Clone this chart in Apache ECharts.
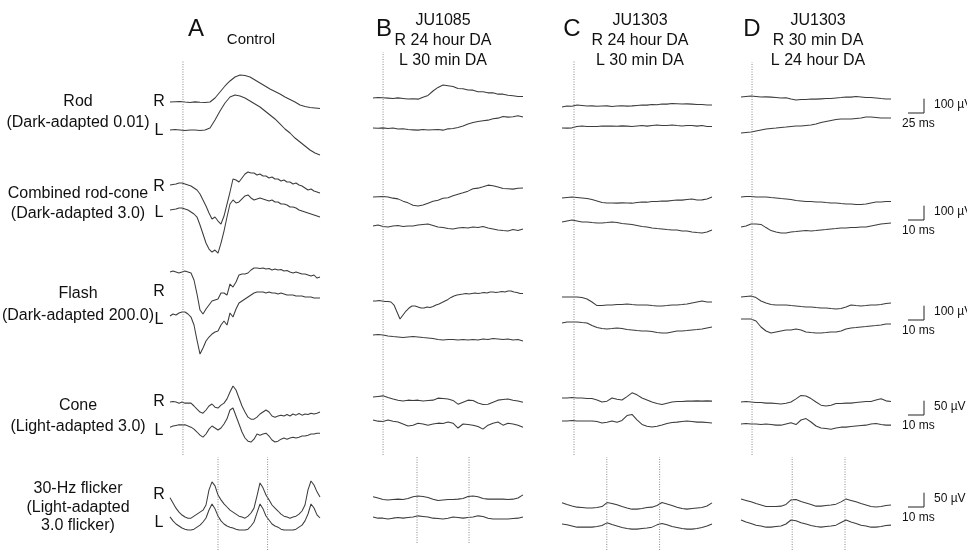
<!DOCTYPE html>
<html><head><meta charset="utf-8">
<script src="https://cdn.jsdelivr.net/npm/echarts@6/dist/echarts.min.js"></script>
<style>html,body{margin:0;padding:0;background:#fff}#c{width:967px;height:550px}</style>
</head><body><div id="c"></div>
<script>
// ---------- text ----------
const panelLetters = ['A', 'B', 'C', 'D'];
const panelTitles = [
  ['Control'],
  ['JU1085', 'R 24 hour DA', 'L 30 min DA'],
  ['JU1303', 'R 24 hour DA', 'L 30 min DA'],
  ['JU1303', 'R 30 min DA', 'L 24 hour DA']
];
const rowTitles = [
  ['Rod', '(Dark-adapted 0.01)'],
  ['Combined rod-cone', '(Dark-adapted 3.0)'],
  ['Flash', '(Dark-adapted 200.0)'],
  ['Cone', '(Light-adapted 3.0)'],
  ['30-Hz flicker', '(Light-adapted', '3.0 flicker)']
];
const eyeLabels = ['R', 'L'];

// ---------- calibration (per protocol row) ----------
const scaleUv = [100, 100, 100, 50, 50];
const scaleMs = [25, 10, 10, 10, 10];
// stimulus timing, ms from start of sweep
const stimOnsetMs = [8.1, 6.3, 7.5, 6.9];
const flickerFlashMs = [[30, 61], [27.5, 60], [28, 61], [32, 65]];

// ---------- traces (µV, uniformly sampled over the sweep) ----------
// Panel A: control
const A_rod_R = [0,2,4,0,-3,1,-2,-4,0,28,70,112,147,175,189,186,175,154,133,112,91,74,56,35,18,0,-21,-32,-39,-42,-46];
const A_rod_L = [0,4,0,-4,0,0,-4,0,14,70,133,189,231,245,238,224,203,182,161,133,105,77,42,7,-21,-56,-84,-112,-140,-161,-175];
const A_comb_R = [7,11,14,21,21,14,7,0,-14,-28,-56,-98,-140,-189,-231,-217,-245,-266,-210,-126,-42,49,42,28,56,84,98,91,91,77,84,70,70,56,63,49,49,35,42,28,28,14,21,7,0,-14,-28,-21,-35,-42,-49];
const A_comb_L = [7,11,14,21,21,14,7,-7,-21,-42,-98,-161,-224,-266,-287,-273,-294,-224,-140,-42,49,77,56,63,84,105,112,91,77,84,91,84,77,70,77,63,63,49,49,42,28,28,21,7,0,-7,-14,-21,-28,-35,-42];
const A_flash_R = [0,7,0,-7,0,7,0,-7,-56,-154,-266,-294,-259,-231,-203,-196,-189,-147,-147,-161,-84,-105,-70,-21,-14,-14,-7,14,28,28,25,28,21,25,14,21,14,18,7,11,0,-7,0,-7,-14,-14,-21,-28,-21,-42,-35];
const A_flash_L = [-21,-7,-14,0,7,7,-7,-28,-84,-189,-287,-245,-196,-168,-147,-133,-126,-84,-56,-84,0,-28,28,70,84,98,112,126,140,147,147,147,140,147,140,140,133,140,133,126,126,126,119,119,119,112,112,112,105,105,105];
const A_cone_R = [0,2,0,-4,0,-4,-4,-4,-14,-25,-35,-39,-28,-14,-7,-18,-21,-11,-4,11,35,56,42,14,-14,-35,-53,-60,-60,-53,-42,-35,-28,-35,-49,-53,-49,-46,-49,-44,-49,-42,-46,-40,-46,-42,-44,-39,-42,-39,-35];
const A_cone_L = [-4,0,2,4,4,4,0,-4,-11,-21,-32,-39,-28,-11,0,-7,-14,-7,7,25,56,63,35,7,-21,-42,-53,-56,-46,-28,-32,-28,-25,-35,-49,-56,-53,-46,-42,-46,-42,-39,-42,-39,-35,-35,-32,-28,-28,-25,-25];
const A_flick_R = [25,7,-11,-25,-35,-42,-46,-46,-39,-32,-25,-18,0,53,81,67,35,18,4,-7,-18,-25,-32,-39,-42,-46,-39,-28,-11,32,77,60,35,18,0,-11,-21,-32,-39,-42,-46,-42,-39,-32,-21,0,53,84,70,46,28];
const A_flick_L = [18,4,-7,-14,-21,-25,-28,-28,-25,-18,-11,0,14,42,63,46,21,4,-7,-14,-18,-21,-25,-28,-28,-28,-25,-14,0,32,63,46,21,7,-7,-14,-18,-25,-28,-28,-28,-28,-25,-18,-11,4,28,63,49,25,14];
// Panel B: JU1085
const B_rod_R = [0,4,2,-1,-4,1,-3,-7,-5,-8,6,18,49,74,91,86,80,66,64,56,55,44,44,36,36,27,27,19,16,10,11];
const B_rod_L = [7,5,8,3,7,0,2,-4,-6,-8,-3,-7,-5,-4,-8,1,3,11,21,35,46,52,57,62,71,76,88,83,86,92,84];
const B_comb_R = [0,2,4,0,-8,-13,-29,-41,-57,-63,-56,-43,-30,-22,-9,-5,8,20,29,41,57,62,72,83,78,70,59,57,55,61,63];
const B_comb_L = [0,7,-4,-7,0,4,-4,0,0,7,11,14,4,-7,-11,-18,-21,-14,-11,-14,-7,-11,-4,-14,-21,-28,-32,-35,-25,-32,-21];
const B_flash_R = [0,0,4,0,-4,-4,-7,-28,-77,-126,-98,-70,-49,-35,-35,-42,-49,-49,-42,-46,-39,-28,-21,-11,0,11,25,35,42,46,49,53,49,53,56,53,56,60,56,63,63,60,63,67,63,70,70,63,60,53,53];
const B_flash_L = [0,4,0,-7,-11,-14,-18,-14,-11,-14,-18,-21,-25,-32,-35,-32,-32,-35,-32,-35,-32,-35,-28,-32,-25,-28,-32,-28,-35,-32,-42];
const B_cone_R = [0,2,4,-2,-7,-11,-14,-11,-12,-11,-14,-12,-11,-4,-5,-7,-12,-25,-18,-11,-12,-21,-26,-25,-18,-11,-9,-7,-11,-14,-18];
const B_cone_L = [0,-4,-5,0,-4,-7,-14,-21,-18,-11,-14,-18,-14,-11,-12,-7,-11,-28,-14,-16,-18,-23,-32,-18,-11,-7,-18,-11,-14,-18,-25];
const B_flick_R = [4,0,-5,-7,-5,-4,-5,-2,4,7,5,2,-4,-9,-7,-5,-5,-4,-2,5,7,4,-2,-4,-4,-4,-4,-5,-4,0,11];
const B_flick_L = [0,-4,-4,-7,-4,-2,-4,-2,0,4,2,0,-4,-5,-7,-4,0,-2,-4,-2,0,4,2,-4,-7,-7,-7,-7,-5,-4,0];
// Panel C: JU1303 (R 24 h DA, L 30 min DA)
const C_rod_R = [-7,0,-2,7,4,0,1,-2,0,1,-4,0,2,-1,1,4,7,6,11,9,14,13,18,16,14,15,13,11,10,7,7];
const C_rod_L = [0,-1,1,11,14,10,11,10,14,13,14,12,15,13,10,14,18,13,18,21,17,18,21,17,14,18,17,13,18,10,11];
const C_comb_R = [0,4,7,4,0,-4,-11,-21,-32,-35,-35,-36,-34,-35,-36,-32,-28,-29,-25,-24,-21,-22,-18,-14,-15,-11,-7,-14,-13,-7,7];
const C_comb_L = [0,7,14,7,0,0,-4,-7,-7,-4,0,-4,-11,-14,-18,-25,-32,-35,-42,-46,-49,-53,-56,-56,-63,-63,-70,-74,-77,-70,-56];
const C_flash_R = [0,0,0,0,-4,-14,-35,-60,-60,-56,-56,-53,-53,-49,-53,-56,-56,-56,-60,-63,-63,-60,-56,-56,-53,-49,-42,-35,-28,-35,-35];
const C_flash_L = [-7,0,0,0,-4,-7,-25,-39,-46,-49,-46,-42,-46,-53,-56,-60,-63,-63,-67,-74,-77,-77,-70,-63,-63,-60,-56,-53,-49,-42,-35];
const C_cone_R = [0,0,2,0,0,-2,-2,-7,-14,-11,0,-4,-7,5,18,11,0,-7,-14,-19,-23,-18,-14,-12,-12,-11,-11,-10,-11,-10,-11];
const C_cone_L = [0,0,2,0,0,0,0,-2,-7,-4,0,-4,2,19,23,4,-12,-18,-21,-18,-14,-9,-5,-4,-2,0,-2,-4,-4,-5,-7];
const C_flick_R = [11,5,0,-4,-5,-7,-7,-5,-2,12,9,4,-2,-7,-11,-11,-9,-5,-4,2,12,7,2,-4,-9,-11,-9,-7,-5,0,11];
const C_flick_L = [7,4,0,-4,-4,-4,-4,-2,2,11,5,0,-5,-9,-11,-11,-9,-7,-4,4,9,4,-2,-5,-9,-11,-11,-9,-5,0,7];
// Panel D: JU1303 (R 30 min DA, L 24 h DA)
const D_rod_R = [0,4,7,4,0,1,-1,-4,-7,-6,-14,-21,-17,-18,-14,-15,-13,-11,-10,-7,-4,0,-1,4,0,-4,-3,-7,-11,-14,-14];
const D_rod_L = [0,4,7,14,21,28,32,35,39,42,46,49,49,53,56,63,74,81,88,95,98,98,98,102,105,112,112,109,105,105,105];
const D_comb_R = [0,4,4,0,0,0,-4,-7,-11,-14,-18,-25,-28,-32,-32,-35,-35,-39,-42,-42,-46,-49,-49,-53,-53,-49,-42,-35,-35,-32,-32];
const D_comb_L = [-7,0,14,14,11,-11,-32,-42,-49,-49,-42,-39,-35,-32,-35,-32,-28,-25,-21,-18,-14,-14,-11,-11,-7,-7,0,7,14,18,21];
const D_flash_R = [0,4,7,-4,-28,-42,-53,-56,-56,-56,-60,-63,-67,-70,-70,-74,-77,-77,-81,-84,-81,-70,-56,-60,-63,-60,-56,-56,-53,-46,-42];
const D_flash_L = [0,0,0,-14,-56,-84,-98,-91,-84,-77,-77,-70,-77,-91,-95,-98,-98,-95,-91,-91,-84,-70,-63,-60,-56,-53,-49,-46,-42,-35,-35];
const D_cone_R = [0,2,0,-2,-2,-4,-4,-5,-7,-4,0,11,23,21,12,0,-11,-14,-11,-5,-5,-4,-4,-2,0,2,2,7,11,4,2];
const D_cone_L = [0,2,0,0,-2,0,-2,-4,-4,0,4,-2,14,19,7,-7,-14,-16,-18,-14,-11,-11,-9,-7,-5,-4,0,2,-2,-4,-4];
const D_flick_R = [14,9,4,-2,-7,-12,-12,-12,-11,-5,11,12,5,0,-5,-11,-11,-9,-7,-4,4,14,9,4,-2,-7,-12,-14,-12,-9,-7];
const D_flick_L = [14,7,2,-4,-7,-11,-11,-9,-7,0,14,11,4,0,-5,-9,-11,-9,-7,-4,5,14,7,2,-4,-7,-11,-11,-9,-5,-4];

const traces = [
  [[A_rod_R, A_rod_L], [A_comb_R, A_comb_L], [A_flash_R, A_flash_L], [A_cone_R, A_cone_L], [A_flick_R, A_flick_L]],
  [[B_rod_R, B_rod_L], [B_comb_R, B_comb_L], [B_flash_R, B_flash_L], [B_cone_R, B_cone_L], [B_flick_R, B_flick_L]],
  [[C_rod_R, C_rod_L], [C_comb_R, C_comb_L], [C_flash_R, C_flash_L], [C_cone_R, C_cone_L], [C_flick_R, C_flick_L]],
  [[D_rod_R, D_rod_L], [D_comb_R, D_comb_L], [D_flash_R, D_flash_L], [D_cone_R, D_cone_L], [D_flick_R, D_flick_L]]
];

// ---------- layout (pixels) ----------
const colLeft = [170, 373, 562, 741];
const sweepW = 150;
const barH = 14.3, barW = 16;
const baseY = [
  [[102, 130], [186, 211], [272, 313], [402, 426], [505, 522]],
  [[98, 129], [197, 226], [301, 335], [397, 420], [498, 517]],
  [[106, 128], [198, 222], [297, 322], [398, 421], [506, 526]],
  [[97, 133], [197, 226], [297, 319], [402, 424], [503, 524]]
];
const stimTop = [60, 52, 60, 62], stimBottom = 455;
const flickTop = 457, flickBottom = [550, 543, 550, 550];
const rowTitleY = [[102, 123], [194, 214], [294, 316], [406, 427], [489, 508, 526]];
const rowTitleX = 78;
const eyeY = [[102, 131], [187, 213], [292, 320], [402, 431], [495, 523]];
const eyeX = 159;
const letterX = [196, 384, 572, 752], letterY = 29;
const titleX = [251, 443, 640, 818];
const titleY3 = [21, 41, 61];
const barX = 908;
const barBottom = [113, 220, 320, 415, 507];

const FONT = "'Liberation Sans', Arial, Helvetica, sans-serif";
const traceColor = '#3c3c3c';
const dotColor = '#8a8a8a';

const grids = [], xAxes = [], yAxes = [], series = [];
function addGrid(g, xr, yr) {
  grids.push(Object.assign({ containLabel: false, show: false }, g));
  const i = grids.length - 1;
  xAxes.push({ gridIndex: i, type: 'value', show: false, min: xr[0], max: xr[1], splitLine: { show: false } });
  yAxes.push({ gridIndex: i, type: 'value', show: false, min: yr[0], max: yr[1], splitLine: { show: false } });
  return i;
}

// traces: each trace has its own small grid centred on its baseline; drawing is not clipped
const HALF = 20;
for (let c = 0; c < 4; c++) {
  for (let r = 0; r < 5; r++) {
    const msPerPx = scaleMs[r] / barW, uvPerPx = scaleUv[r] / barH;
    const dur = sweepW * msPerPx;
    for (let e = 0; e < 2; e++) {
      const vals = traces[c][r][e];
      const gi = addGrid({ left: colLeft[c], top: baseY[c][r][e] - HALF, width: sweepW, height: 2 * HALF },
        [0, dur], [-HALF * uvPerPx, HALF * uvPerPx]);
      series.push({
        type: 'line', xAxisIndex: gi, yAxisIndex: gi, silent: true, symbol: 'none', clip: false,
        data: vals.map((v, i) => [i * dur / (vals.length - 1), v]),
        lineStyle: { color: traceColor, width: 1.05 }
      });
    }
  }
}

// stimulus onset markers (rows 1-4) and flicker flashes (row 5), on the 10 ms scale
const durShort = sweepW * scaleMs[1] / barW;
for (let c = 0; c < 4; c++) {
  const gs = addGrid({ left: colLeft[c], top: stimTop[c], width: sweepW, height: stimBottom - stimTop[c] }, [0, durShort], [0, 1]);
  series.push({ type: 'line', xAxisIndex: gs, yAxisIndex: gs, silent: true, symbol: 'none',
    data: [[stimOnsetMs[c], 0], [stimOnsetMs[c], 1]], lineStyle: { color: dotColor, width: 1, type: [1, 1.5] } });
  const gf = addGrid({ left: colLeft[c], top: flickTop, width: sweepW, height: flickBottom[c] - flickTop }, [0, durShort], [0, 1]);
  flickerFlashMs[c].forEach(t => {
    series.push({ type: 'line', xAxisIndex: gf, yAxisIndex: gf, silent: true, symbol: 'none',
      data: [[t, 0], [t, 1]], lineStyle: { color: dotColor, width: 1, type: [1, 1.5] } });
  });
}

// scale bars
for (let r = 0; r < 5; r++) {
  const gb = addGrid({ left: barX, top: barBottom[r] - barH, width: barW, height: barH }, [0, scaleMs[r]], [0, scaleUv[r]]);
  series.push({ type: 'line', xAxisIndex: gb, yAxisIndex: gb, silent: true, symbol: 'none', clip: false,
    data: [[0, 0], [scaleMs[r], 0], [scaleMs[r], scaleUv[r]]], lineStyle: { color: '#222', width: 1 } });
}

// text
const texts = [];
function txt(s, x, y, size, align) {
  texts.push({ type: 'text', x: x, y: y, silent: true,
    style: { text: s, font: size + 'px ' + FONT, fill: '#111', align: align || 'center', verticalAlign: 'middle' } });
}
panelLetters.forEach((L, c) => txt(L, letterX[c], letterY, 24));
txt(panelTitles[0][0], titleX[0], 40, 15);
for (let c = 1; c < 4; c++) panelTitles[c].forEach((s, k) => txt(s, titleX[c], titleY3[k], 16));
rowTitles.forEach((lines, r) => lines.forEach((s, k) => txt(s, rowTitleX, rowTitleY[r][k], 16)));
eyeY.forEach(ys => ys.forEach((y, e) => txt(eyeLabels[e], eyeX, y, 16)));
for (let r = 0; r < 5; r++) {
  txt(scaleUv[r] + ' µV', 934, barBottom[r] - 8, 12, 'left');
  txt(scaleMs[r] + ' ms', 902, barBottom[r] + 11, 12, 'left');
}

const chart = echarts.init(document.getElementById('c'), null, { renderer: 'canvas' });
chart.setOption({
  backgroundColor: '#ffffff',
  animation: false,
  grid: grids, xAxis: xAxes, yAxis: yAxes, series: series,
  graphic: { elements: texts }
});
</script></body></html>
